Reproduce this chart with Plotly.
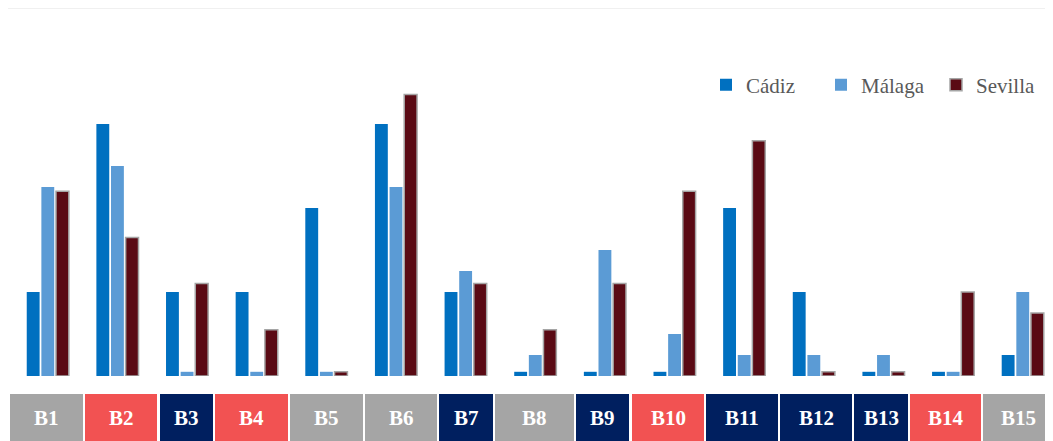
import plotly.graph_objects as go

# ---- data ----
categories = ["B1", "B2", "B3", "B4", "B5", "B6", "B7", "B8", "B9", "B10",
              "B11", "B12", "B13", "B14", "B15"]
cadiz = [4, 12, 4, 4, 8, 12, 4, 0.2, 0.2, 0.2, 8, 4, 0.2, 0.2, 1]
malaga = [9, 10, 0.2, 0.2, 0.2, 9, 5, 1, 6, 2, 1, 1, 1, 0.2, 4]
sevilla = [8.8, 6.6, 4.4, 2.2, 0.2, 13.4, 4.4, 2.2, 4.4, 8.8, 11.2, 0.2, 0.2, 4, 3]
label_groups = ["grey", "red", "navy", "red", "grey", "grey", "navy", "grey",
                "navy", "red", "navy", "navy", "navy", "red", "grey"]

# ---- style / layout constants ----
OFF = 8                      # page body margin
W, H = 1053 - OFF, 441 - OFF
M_T, M_B = 12, 65
PLOT_H = H - M_T - M_B
PX_PER_UNIT = 21.0
FIRST_CENTER_PX = 47.8 - OFF
STEP_PX = 69.64
FONT = "Liberation Serif, Times New Roman, serif"
group_colors = {"grey": "#A5A5A5", "red": "#F25252", "navy": "#001F5F"}
# label box pixel edges on screen (layout)
box_edges = [(10, 83), (85, 157), (160, 213), (215, 288), (290, 363), (365, 437),
             (439, 493), (495, 574), (576, 629), (632, 704), (706, 778),
             (780, 852), (854, 908), (910, 981), (983, 1053)]
BOX_TOP_PX, BOX_BOT_PX = 394, 441

def px_(sx):
    return (sx - OFF) / W

def py(sy):
    return (H - M_B - (sy - OFF)) / PLOT_H

fig = go.Figure()
fig.add_trace(go.Bar(name="Cádiz", x=categories, y=cadiz,
                     marker=dict(color="#0070C0", line=dict(width=0))))
fig.add_trace(go.Bar(name="Málaga", x=categories, y=malaga,
                     marker=dict(color="#5B9BD5", line=dict(width=0))))
fig.add_trace(go.Bar(name="Sevilla", x=categories, y=sevilla,
                     marker=dict(color="#5A0A14", line=dict(color="#A5A5A5", width=1.5))))

shapes = [dict(type="line", xref="paper", yref="paper", x0=0, x1=1,
               y0=py(8.5), y1=py(8.5), line=dict(color="#F0F0F0", width=1))]
annotations = []
for cat, grp, (x0, x1) in zip(categories, label_groups, box_edges):
    shapes.append(dict(type="rect", xref="paper", yref="paper",
                       x0=px_(x0), x1=px_(x1), y0=py(BOX_BOT_PX), y1=py(BOX_TOP_PX),
                       fillcolor=group_colors[grp], line=dict(width=0), layer="below"))
    annotations.append(dict(text=f"<b>{cat}</b>", xref="paper", yref="paper",
                            x=px_((x0 + x1) / 2), y=py((BOX_TOP_PX + BOX_BOT_PX) / 2),
                            showarrow=False, xanchor="center", yanchor="middle",
                            font=dict(family=FONT, size=21, color="white")))

x_lo = -FIRST_CENTER_PX / STEP_PX
x_hi = (W - FIRST_CENTER_PX) / STEP_PX

fig.update_layout(
    width=W, height=H,
    font=dict(family=FONT),
    margin=dict(l=0, r=0, t=M_T, b=M_B),
    paper_bgcolor="white", plot_bgcolor="white",
    barmode="group", bargap=0.37, bargroupgap=0.12,
    xaxis=dict(range=[x_lo, x_hi], showticklabels=False, showgrid=False,
               zeroline=False, showline=False, ticks=""),
    yaxis=dict(range=[0, PLOT_H / PX_PER_UNIT], showticklabels=False, showgrid=False,
               zeroline=False, showline=False, ticks=""),
    legend=dict(orientation="h", x=px_(1051), xanchor="right", y=py(85), yanchor="middle",
                font=dict(family=FONT, size=21, color="#595959"),
                itemwidth=30, entrywidth=70, bgcolor="rgba(0,0,0,0)", traceorder="normal"),
    shapes=shapes, annotations=annotations,
    showlegend=True,
)

fig.write_html("out.html")
